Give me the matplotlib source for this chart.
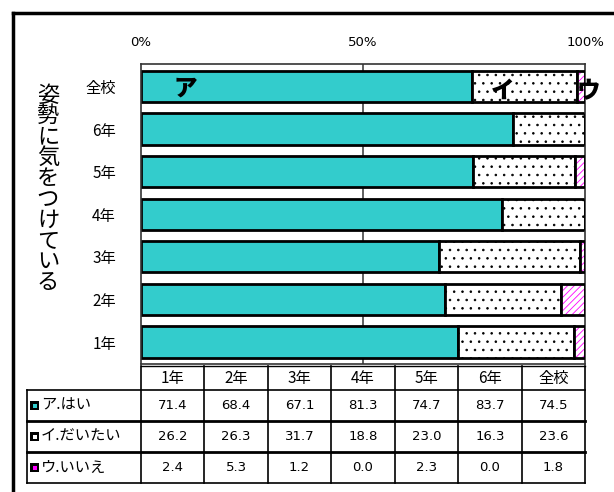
import matplotlib
matplotlib.use("Agg")
import matplotlib.pyplot as plt
from matplotlib.patches import Rectangle
from matplotlib.lines import Line2D

plt.rcParams['font.family'] = ['Noto Sans CJK JP', 'DejaVu Sans']
plt.rcParams['hatch.linewidth'] = 0.6

# ---- data ----
grades = ["1年", "2年", "3年", "4年", "5年", "6年", "全校"]
yes_vals = [71.4, 68.4, 67.1, 81.3, 74.7, 83.7, 74.5]
mostly_vals = [26.2, 26.3, 31.7, 18.8, 23.0, 16.3, 23.6]
no_vals = [2.4, 5.3, 1.2, 0.0, 2.3, 0.0, 1.8]
series_names = ["ア.はい", "イ.だいたい", "ウ.いいえ"]
xtick_vals = [0, 50, 100]
xtick_labels = ["0%", "50%", "100%"]
title_text = "姿勢に気をつけている"
seg_marks = ["ア", "イ", "ウ"]

W, H = 614, 492
CYAN = "#33CCCC"
MAG = "#FF00FF"

fig = plt.figure(figsize=(W / 100, H / 100), dpi=100)

def fx(x):
    return x / W

def fy(y):
    return 1 - y / H

# frame
fig.add_artist(Line2D([fx(13), fx(13)], [fy(13), fy(492)], color="black", lw=2.5))
fig.add_artist(Line2D([fx(13), fx(614)], [fy(13), fy(13)], color="black", lw=2.5))

L, R, T, B = 141, 585, 64, 364
ax = fig.add_axes([fx(L), fy(B), (R - L) / W, (B - T) / H])
ax.set_xlim(0, 100)
ax.set_ylim(-0.516, 6.526)

ypos = list(range(len(grades)))
bh = 0.73
ax.axvline(50, color="#444444", lw=1.2, zorder=0)

ax.barh(ypos, yes_vals, height=bh, color=CYAN, edgecolor="black", lw=2, zorder=2)
left2 = yes_vals
ax.barh(ypos, mostly_vals, left=left2, height=bh, color="white", edgecolor="black",
        hatch="..", lw=2, zorder=2)
left3 = [a + b for a, b in zip(yes_vals, mostly_vals)]
ax.barh(ypos, no_vals, left=left3, height=bh, color="white", edgecolor=MAG,
        hatch="/////", lw=0, zorder=2)
ax.barh(ypos, no_vals, left=left3, height=bh, color="none", edgecolor="black",
        lw=2, zorder=3)

ax.set_xticks(xtick_vals)
ax.set_xticklabels(xtick_labels, family="DejaVu Sans", fontsize=9.5)
ax.xaxis.set_ticks_position("top")
ax.tick_params(axis="x", length=0, pad=11)
ax.set_yticks(ypos)
ax.set_yticklabels(grades, fontsize=11)
ax.tick_params(axis="y", length=0, pad=18)
for s in ax.spines.values():
    s.set_linewidth(1.2)
    s.set_color("#333333")

# segment marks on 全校 row
top = len(grades) - 1
ax.text(10, top - 0.05, seg_marks[0], fontsize=17, fontweight="heavy", ha="center", va="center", zorder=5)
ax.text(81.5, top - 0.1, seg_marks[1], fontsize=17, fontweight="heavy", ha="center", va="center", zorder=5)
ax.text(100.7, top - 0.1, seg_marks[2], fontsize=17, fontweight="heavy", ha="center", va="center",
        zorder=5, clip_on=False)

# vertical title
for i, ch in enumerate(title_text):
    fig.text(fx(48), fy(95 + i * 20.8), ch, fontsize=16, ha="center", va="center")

# ---- data table ----
rows_y = [366, 390, 421, 452, 483]
colw = (R - L) / len(grades)
col_x = [L + k * colw for k in range(len(grades) + 1)]
TL = 27

def hline(y, x0, x1, lw=1.0):
    fig.add_artist(Line2D([fx(x0), fx(x1)], [fy(y), fy(y)], color="black", lw=lw))

def vline(x, y0, y1, lw=1.0):
    fig.add_artist(Line2D([fx(x), fx(x)], [fy(y0), fy(y1)], color="black", lw=lw))

hline(rows_y[0], L, R, 1.0)
hline(rows_y[1], TL, R, 1.2)
hline(rows_y[2], TL, R, 2.0)
hline(rows_y[3], TL, R, 2.0)
hline(rows_y[4], TL, R, 1.2)
vline(TL, rows_y[1], rows_y[4], 1.2)
for x in col_x:
    vline(x, rows_y[0], rows_y[4], 1.2)

# header
for k, g in enumerate(grades):
    fig.text(fx(col_x[k] + colw / 2), fy((rows_y[0] + rows_y[1]) / 2), g,
             fontsize=11, ha="center", va="center")

series = [yes_vals, mostly_vals, no_vals]
inner_colors = [CYAN, "white", MAG]
for r, (name, vals) in enumerate(zip(series_names, series)):
    yc = (rows_y[r + 1] + rows_y[r + 2]) / 2
    # legend key
    fig.add_artist(Rectangle((fx(30), fy(yc + 4.5)), 9 / W, 9 / H, facecolor="black",
                             edgecolor="black", lw=0))
    fig.add_artist(Rectangle((fx(32.5), fy(yc + 2)), 4 / W, 4 / H,
                             facecolor=inner_colors[r], edgecolor="none", lw=0))
    fig.text(fx(41), fy(yc), name, fontsize=11, ha="left", va="center")
    for k, v in enumerate(vals):
        fig.text(fx(col_x[k] + colw / 2), fy(yc), f"{v:.1f}", family="DejaVu Sans",
                 fontsize=9.5, ha="center", va="center")

fig.savefig("out.png", dpi=100)
